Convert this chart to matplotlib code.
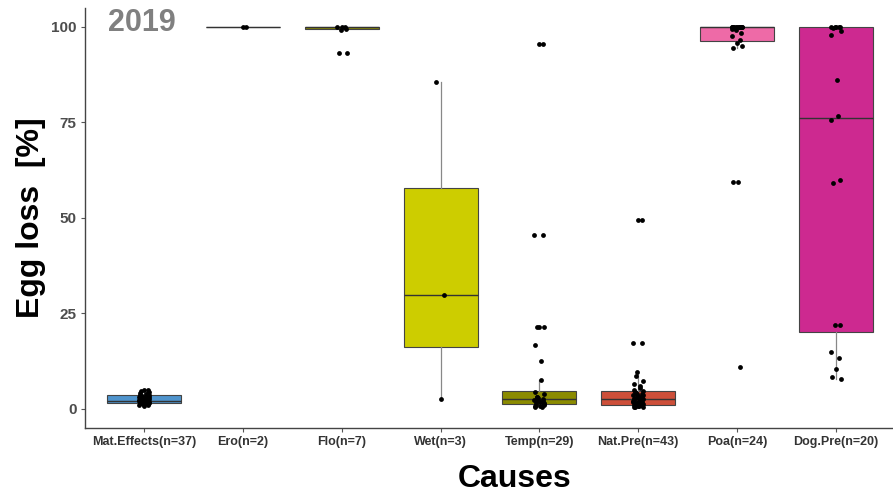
import numpy as np
import matplotlib
matplotlib.use("Agg")
import matplotlib.pyplot as plt

plt.rcParams['font.family'] = ['Liberation Sans', 'DejaVu Sans']

# categories and labels
causes = ['Mat.Effects', 'Ero', 'Flo', 'Wet', 'Temp', 'Nat.Pre', 'Poa', 'Dog.Pre']
counts = [37, 2, 7, 3, 29, 43, 24, 20]
colors = ['#4F94CD', '#8B5A2B', '#8B8B00', '#CDCD00', '#8B8B00', '#CD4F39', '#EE6AA7', '#CD2990']

# box statistics: q1, median, q3, lower whisker, upper whisker
q1 = [1.4, 100, 99.5, 16.3, 1.15, 0.9, 96.4, 20.1]
med = [2.0, 100, 100, 29.8, 2.46, 2.5, 100, 76.0]
q3 = [3.6, 100, 100, 57.8, 4.63, 4.6, 100, 100]
whislo = [0.8, 100, 99.2, 2.5, 0.5, 0.5, 94.4, 7.9]
whishi = [5.0, 100, 100, 85.6, 7.5, 9.7, 100, 100]

# individual points
mat_effects = [0.8, 1.0, 1.1, 1.2, 1.3, 1.4, 1.5, 1.5, 1.6, 1.7, 1.8, 1.9, 2.0, 2.0,
               2.1, 2.2, 2.3, 2.4, 2.5, 2.6, 2.7, 2.8, 2.9, 3.0, 3.1, 3.2, 3.4, 3.5,
               3.6, 3.8, 4.0, 4.2, 4.4, 4.6, 4.8, 5.0, 2.0]
ero = [100, 100]
flo = [100, 100, 100, 99.5, 99.2, 93.2, 93.2]
wet = [2.5, 29.8, 85.6]
temp = [95.5, 95.5, 45.6, 45.6, 21.3, 21.3, 21.3, 16.8, 12.6, 7.5, 4.5, 3.8, 3.2,
        2.8, 2.5, 2.3, 2.0, 1.8, 1.5, 1.2, 1.0, 0.8, 0.6, 0.5, 1.0, 2.2, 3.0, 1.4, 0.7]
nat_pre = [49.4, 49.4, 17.1, 17.1, 9.7, 8.5, 7.3, 6.5, 6.0, 5.5, 5.0, 4.6, 4.2, 4.0,
           3.8, 3.5, 3.2, 3.0, 2.8, 2.6, 2.5, 2.4, 2.2, 2.0, 1.8, 1.6, 1.4, 1.2, 1.0,
           0.9, 0.8, 0.6, 0.5, 0.5, 3.3, 2.9, 1.9, 1.1, 0.7, 4.4, 3.6, 2.7, 1.5]
poa = [100, 100, 100, 100, 100, 100, 100, 100, 100, 100, 100, 100, 99.8, 99.1, 98.5,
       97.5, 96.5, 95.7, 94.4, 95.0, 59.4, 59.4, 10.9, 99.5]
dog_pre = [100, 100, 100, 100, 100, 99.6, 98.9, 97.9, 86.0, 76.7, 75.6, 59.9, 59.0,
           21.9, 21.9, 14.9, 13.2, 10.5, 8.3, 7.9]
points = [mat_effects, ero, flo, wet, temp, nat_pre, poa, dog_pre]

fig = plt.figure(figsize=(8.93, 4.97), dpi=100)
ax = fig.add_axes([85 / 893, 0.139, 810 / 893, 0.8455])

stats = []
for i in range(len(causes)):
    stats.append(dict(q1=q1[i], med=med[i], q3=q3[i], whislo=whislo[i],
                      whishi=whishi[i], fliers=[]))
pos = np.arange(1, len(causes) + 1)
bp = ax.bxp(stats, positions=pos, widths=0.75, patch_artist=True, showcaps=False,
            boxprops=dict(edgecolor='#444444', linewidth=0.8),
            whiskerprops=dict(color='#888888', linewidth=0.9),
            medianprops=dict(color='#333333', linewidth=1.0))
for patch, c in zip(bp['boxes'], colors):
    patch.set_facecolor(c)

# jittered points (deterministic offsets)
for i, vals in enumerate(points):
    n = len(vals)
    off = 0.05 * np.sin(np.arange(n) * 2.4)
    ax.scatter(pos[i] + off, vals, s=12, color='black', zorder=3, linewidths=0)

ax.set_xlim(0.4, 8.6)
ax.set_ylim(-5, 105)
ax.set_yticks([0, 25, 50, 75, 100])
ax.set_xticks(pos)
ax.set_xticklabels(['%s(n=%d)' % (c, n) for c, n in zip(causes, counts)])
for lab in ax.get_xticklabels():
    lab.set_fontweight('bold')
    lab.set_color('#333333')
    lab.set_fontsize(9)
for lab in ax.get_yticklabels():
    lab.set_fontweight('bold')
    lab.set_color('#4D4D4D')
    lab.set_fontsize(11)
ax.tick_params(length=3, color='#555555', pad=3)
for s in ['top', 'right']:
    ax.spines[s].set_visible(False)
for s in ['left', 'bottom']:
    ax.spines[s].set_color('#444444')
    ax.spines[s].set_linewidth(1.0)

ax.text(0.63, 101, '2019', fontsize=22, fontweight='bold', color='#808080',
        ha='left', va='center')

fig.text(31 / 893, 1 - 217.5 / 497, 'Egg loss  [%]', rotation=90, fontsize=23,
         fontweight='bold', ha='center', va='center')
fig.text(515 / 893, 1 - 479 / 497, 'Causes', fontsize=23, fontweight='bold',
         ha='center', va='center')

fig.savefig('out.png', dpi=100)
